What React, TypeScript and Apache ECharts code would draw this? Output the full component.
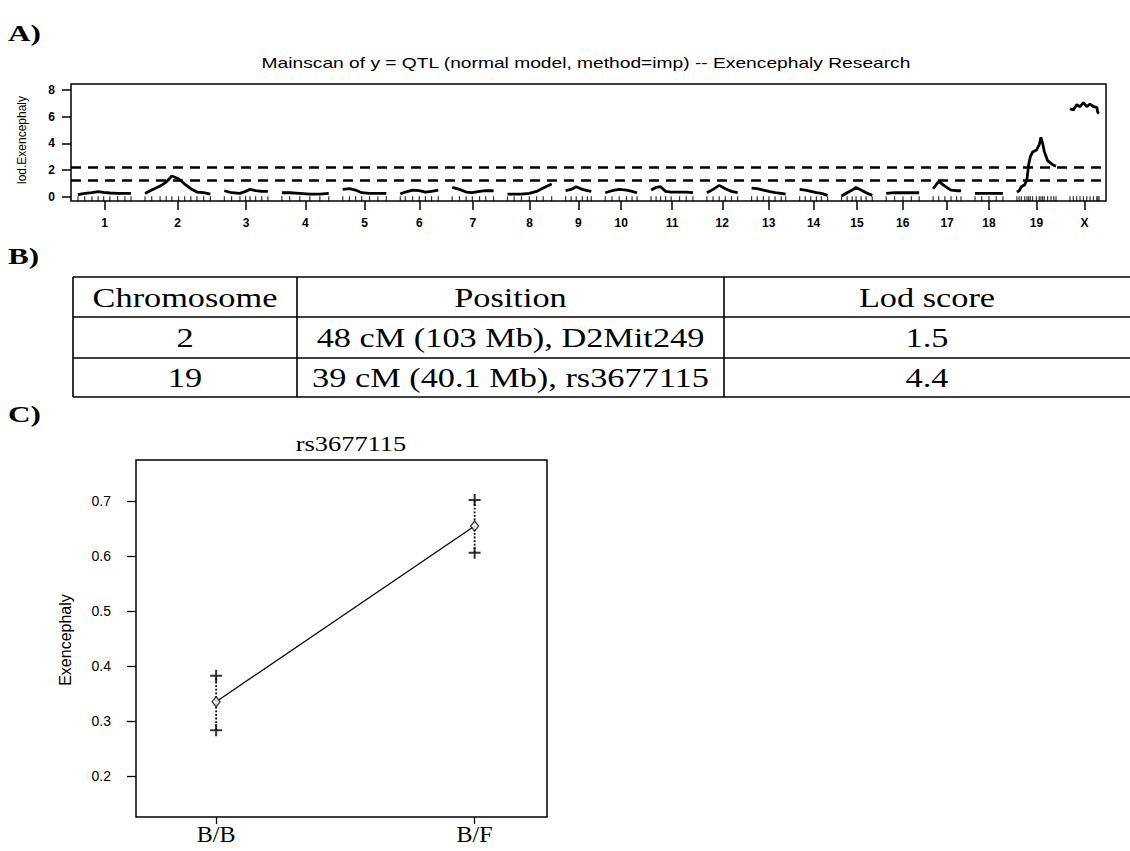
import React, { useEffect, useRef } from "react";
import * as echarts from "echarts";

// ---------- Panel A data ----------
const chromNames = ["1", "2", "3", "4", "5", "6", "7", "8", "9", "10", "11", "12", "13", "14", "15", "16", "17", "18", "19", "X"];
const chromLengths = [95, 117, 78, 84, 78, 68, 74, 79, 46, 57, 75, 55, 61, 50, 55, 59, 50, 50, 70, 52];
const chromGap = 25;
const lodThresholds = [2.2, 1.27];
const lodTicks = [0, 2, 4, 6, 8];

const lodChr1 = [[0, 0.15], [12, 0.25], [25, 0.3], [36, 0.38], [46, 0.32], [57, 0.28], [71, 0.25], [84, 0.25], [95, 0.25]];
const lodChr2 = [[0, 0.25], [12, 0.5], [27, 0.8], [38, 1.1], [48, 1.55], [60, 1.35], [71, 0.95], [82, 0.6], [93, 0.35], [105, 0.3], [117, 0.2]];
const lodChr3 = [[0, 0.45], [13, 0.3], [28, 0.25], [38, 0.4], [46, 0.55], [56, 0.45], [67, 0.4], [78, 0.4]];
const lodChr4 = [[0, 0.3], [14, 0.3], [32, 0.25], [50, 0.2], [68, 0.2], [84, 0.25]];
const lodChr5 = [[0, 0.55], [12, 0.6], [23, 0.5], [34, 0.3], [48, 0.25], [63, 0.25], [78, 0.25]];
const lodChr6 = [[0, 0.2], [9, 0.35], [22, 0.5], [34, 0.45], [45, 0.35], [56, 0.4], [68, 0.5]];
const lodChr7 = [[0, 0.7], [13, 0.55], [25, 0.35], [36, 0.3], [49, 0.4], [60, 0.45], [74, 0.45]];
const lodChr8 = [[0, 0.2], [12, 0.2], [25, 0.2], [39, 0.25], [52, 0.4], [64, 0.65], [79, 0.95]];
const lodChr9 = [[0, 0.45], [10, 0.55], [19, 0.75], [30, 0.55], [39, 0.45], [46, 0.4]];
const lodChr10 = [[0, 0.3], [12, 0.45], [25, 0.55], [38, 0.5], [48, 0.4], [57, 0.3]];
const lodChr11 = [[0, 0.5], [9, 0.7], [17, 0.75], [26, 0.4], [36, 0.35], [51, 0.35], [63, 0.35], [75, 0.3]];
const lodChr12 = [[0, 0.3], [11, 0.55], [22, 0.85], [33, 0.6], [44, 0.4], [55, 0.3]];
const lodChr13 = [[0, 0.65], [10, 0.6], [21, 0.5], [31, 0.4], [42, 0.3], [53, 0.25], [61, 0.2]];
const lodChr14 = [[0, 0.55], [10, 0.5], [20, 0.4], [30, 0.3], [39, 0.25], [50, 0.1]];
const lodChr15 = [[0, 0.05], [10, 0.3], [19, 0.5], [26, 0.7], [35, 0.5], [44, 0.3], [55, 0.1]];
const lodChr16 = [[0, 0.25], [15, 0.3], [30, 0.3], [45, 0.3], [59, 0.3]];
const lodChr17 = [[0, 0.6], [10, 1.15], [21, 0.8], [32, 0.5], [42, 0.45], [50, 0.45]];
const lodChr18 = [[0, 0.25], [12, 0.25], [25, 0.25], [38, 0.25], [50, 0.25]];
const lodChr19 = [[0, 0.35], [4, 0.45], [8, 0.75], [14, 0.9], [18, 1.3], [21, 2.4], [24, 3.0], [28, 3.35], [35, 3.5], [40, 3.9], [43, 4.45], [46, 4.0], [49, 3.4], [55, 2.7], [61, 2.5], [66, 2.35], [70, 2.3]];
const lodChrX = [[0, 6.6], [6, 6.5], [12, 6.9], [18, 6.75], [24, 7.05], [30, 6.75], [36, 6.95], [42, 6.75], [48, 6.7], [50, 6.3], [52, 6.25]];

const lodCurves = [lodChr1, lodChr2, lodChr3, lodChr4, lodChr5, lodChr6, lodChr7, lodChr8, lodChr9, lodChr10,
  lodChr11, lodChr12, lodChr13, lodChr14, lodChr15, lodChr16, lodChr17, lodChr18, lodChr19, lodChrX];

// ---------- Panel B data ----------
const tableHeader = ["Chromosome", "Position", "Lod score"];
const tableRow1 = ["2", "48 cM (103 Mb), D2Mit249", "1.5"];
const tableRow2 = ["19", "39 cM (40.1 Mb), rs3677115", "4.4"];

// ---------- Panel C data ----------
const genotypes = ["B/B", "B/F"];
const phenoMean = [0.335, 0.655];
const phenoUpper = [0.382, 0.702];
const phenoLower = [0.283, 0.606];
const phenoTicks = [0.2, 0.3, 0.4, 0.5, 0.6, 0.7];

const SANS = '"Liberation Sans", Arial, sans-serif';
const SERIF = '"Liberation Serif", "Times New Roman", serif';

export default function App() {
  const ref = useRef<HTMLDivElement>(null);

  useEffect(() => {
    if (!ref.current) return;
    const chart = echarts.init(ref.current, undefined, { renderer: "svg" });

    const starts: number[] = [];
    let acc = 0;
    chromLengths.forEach((L) => {
      starts.push(acc);
      acc += L + chromGap;
    });
    const genomeEnd = acc - chromGap;
    const mids = chromLengths.map((L, i) => starts[i] + L / 2);
    const nameFor = (v: number) => {
      const i = mids.findIndex((m) => Math.abs(m - v) < 1e-6);
      return i >= 0 ? chromNames[i] : "";
    };

    const curveSeries: any[] = lodCurves.map((pts, i) => ({
      type: "line",
      xAxisIndex: 0,
      yAxisIndex: 0,
      data: pts.map(([p, l]) => [starts[i] + p, l]),
      symbol: "none",
      silent: true,
      z: 3,
      lineStyle: { color: "#000", width: 2.8 },
      ...(i === 0
        ? {
            markLine: {
              silent: true,
              symbol: "none",
              label: { show: false },
              lineStyle: { color: "#000", width: 2.5, type: [10, 7] },
              data: lodThresholds.map((t) => ({ yAxis: t })),
            },
          }
        : {}),
    }));

    const rugData: number[][] = [];
    lodCurves.forEach((pts, i) => pts.forEach(([p]) => rugData.push([starts[i] + p, -0.15])));

    const textEl = (x: number, y: number, text: string, font: string, align: string, opts: any = {}) => ({
      type: "text",
      x,
      y,
      silent: true,
      ...opts,
      style: {
        text,
        font,
        fill: "#000",
        textAlign: align,
        textVerticalAlign: "middle",
        align,
        verticalAlign: "middle",
      },
    });

    const colEdges = [73, 297, 724, 1130];
    const rowEdges = [277, 317, 358, 397];
    const tableRows = [tableHeader, tableRow1, tableRow2];
    const graphics: any[] = [];
    rowEdges.forEach((y) =>
      graphics.push({ type: "line", silent: true, shape: { x1: colEdges[0], y1: y, x2: colEdges[3], y2: y }, style: { stroke: "#000", lineWidth: 1.6 } })
    );
    colEdges.slice(0, 3).forEach((x) =>
      graphics.push({ type: "line", silent: true, shape: { x1: x, y1: rowEdges[0], x2: x, y2: rowEdges[3] }, style: { stroke: "#000", lineWidth: 1.6 } })
    );
    tableRows.forEach((row, r) =>
      row.forEach((cell, c) =>
        graphics.push(
          textEl((colEdges[c] + colEdges[c + 1]) / 2, (rowEdges[r] + rowEdges[r + 1]) / 2 + 1, cell, `27px ${SERIF}`, "center", { scaleX: 1.27 })
        )
      )
    );

    graphics.push(textEl(8, 33, "A)", `bold 24px ${SERIF}`, "left", { scaleX: 1.3 }));
    graphics.push(textEl(8, 256, "B)", `bold 24px ${SERIF}`, "left", { scaleX: 1.3 }));
    graphics.push(textEl(8, 414, "C)", `bold 24px ${SERIF}`, "left", { scaleX: 1.3 }));
    graphics.push(
      textEl(586, 63, "Mainscan of y = QTL (normal model, method=imp) -- Exencephaly Research", `15px ${SANS}`, "center", { scaleX: 1.28 })
    );
    graphics.push(textEl(22, 140, "lod.Exencephaly", `12px ${SANS}`, "center", { rotation: Math.PI / 2 }));
    graphics.push(textEl(351, 443, "rs3677115", `22px ${SERIF}`, "center", { scaleX: 1.2 }));
    graphics.push(textEl(65, 640, "Exencephaly", `16px ${SANS}`, "center", { rotation: Math.PI / 2 }));

    const plusPath = "path://M0,5H12V7H0Z M5,0H7V12H5Z";

    const option: any = {
      animation: false,
      backgroundColor: "#fff",
      grid: [
        { left: 71, right: 24, top: 84, bottom: 650, show: true, borderColor: "#000", borderWidth: 1.5, backgroundColor: "transparent" },
        { left: 136, right: 583, top: 460, bottom: 34, show: true, borderColor: "#000", borderWidth: 1.5, backgroundColor: "transparent" },
      ],
      xAxis: [
        {
          type: "value",
          gridIndex: 0,
          min: -chromGap / 2,
          max: genomeEnd + chromGap / 2,
          axisLine: { show: false, onZero: false },
          splitLine: { show: false },
          axisTick: { show: true, customValues: mids, length: 9, lineStyle: { color: "#000", width: 1.5 } },
          axisLabel: {
            customValues: mids,
            formatter: (v: number) => nameFor(v),
            color: "#000",
            fontSize: 12,
            fontWeight: "bold",
            fontFamily: SANS,
            margin: 16,
          },
        },
        {
          type: "value",
          gridIndex: 1,
          min: 0.69,
          max: 2.28,
          axisLine: { show: false, onZero: false },
          splitLine: { show: false },
          axisTick: { show: true, customValues: [1, 2], length: 7, lineStyle: { color: "#000", width: 1.3 } },
          axisLabel: {
            customValues: [1, 2],
            formatter: (v: number) => genotypes[Math.round(v) - 1] || "",
            color: "#000",
            fontSize: 24,
            fontFamily: SERIF,
            margin: 5,
          },
        },
      ],
      yAxis: [
        {
          type: "value",
          gridIndex: 0,
          min: -0.32,
          max: 8.45,
          axisLine: { show: false, onZero: false },
          splitLine: { show: false },
          axisTick: { show: true, customValues: lodTicks, length: 9, lineStyle: { color: "#000", width: 1.5 } },
          axisLabel: {
            customValues: lodTicks,
            formatter: (v: number) => String(v),
            color: "#000",
            fontSize: 12,
            fontWeight: "bold",
            fontFamily: SANS,
            margin: 16,
          },
        },
        {
          type: "value",
          gridIndex: 1,
          min: 0.125,
          max: 0.775,
          axisLine: { show: false, onZero: false },
          splitLine: { show: false },
          axisTick: { show: true, customValues: phenoTicks, length: 9, lineStyle: { color: "#000", width: 1.3 } },
          axisLabel: {
            customValues: phenoTicks,
            formatter: (v: number) => v.toFixed(1),
            color: "#000",
            fontSize: 14,
            fontFamily: SANS,
            margin: 25,
          },
        },
      ],
      series: [
        ...curveSeries,
        {
          type: "scatter",
          xAxisIndex: 0,
          yAxisIndex: 0,
          data: rugData,
          symbol: "rect",
          symbolSize: [1.2, 5],
          silent: true,
          itemStyle: { color: "#000" },
          z: 2,
        },
        {
          type: "line",
          xAxisIndex: 1,
          yAxisIndex: 1,
          data: genotypes.map((g, i) => [i + 1, phenoMean[i]]),
          symbol: "none",
          silent: true,
          lineStyle: { color: "#000", width: 1.2 },
          z: 2,
        },
        ...genotypes.map((g, i) => ({
          type: "line",
          xAxisIndex: 1,
          yAxisIndex: 1,
          data: [
            [i + 1, phenoLower[i]],
            [i + 1, phenoUpper[i]],
          ],
          symbol: "none",
          silent: true,
          lineStyle: { color: "#000", width: 1.8, type: "dotted" },
          z: 2,
        })),
        {
          type: "scatter",
          xAxisIndex: 1,
          yAxisIndex: 1,
          data: genotypes.flatMap((g, i) => [
            [i + 1, phenoUpper[i]],
            [i + 1, phenoLower[i]],
          ]),
          symbol: plusPath,
          symbolSize: 12,
          silent: true,
          itemStyle: { color: "#000" },
          z: 4,
        },
        {
          type: "scatter",
          xAxisIndex: 1,
          yAxisIndex: 1,
          data: genotypes.map((g, i) => [i + 1, phenoMean[i]]),
          symbol: "diamond",
          symbolSize: [8, 10],
          silent: true,
          itemStyle: { color: "#fff", borderColor: "#000", borderWidth: 1.3 },
          z: 5,
        },
      ],
      graphic: { elements: graphics },
    };

    chart.setOption(option);
    return () => chart.dispose();
  }, []);

  return <div ref={ref} style={{ position: "absolute", left: 0, top: 0, width: 1130, height: 851, background: "#fff" }} />;
}
